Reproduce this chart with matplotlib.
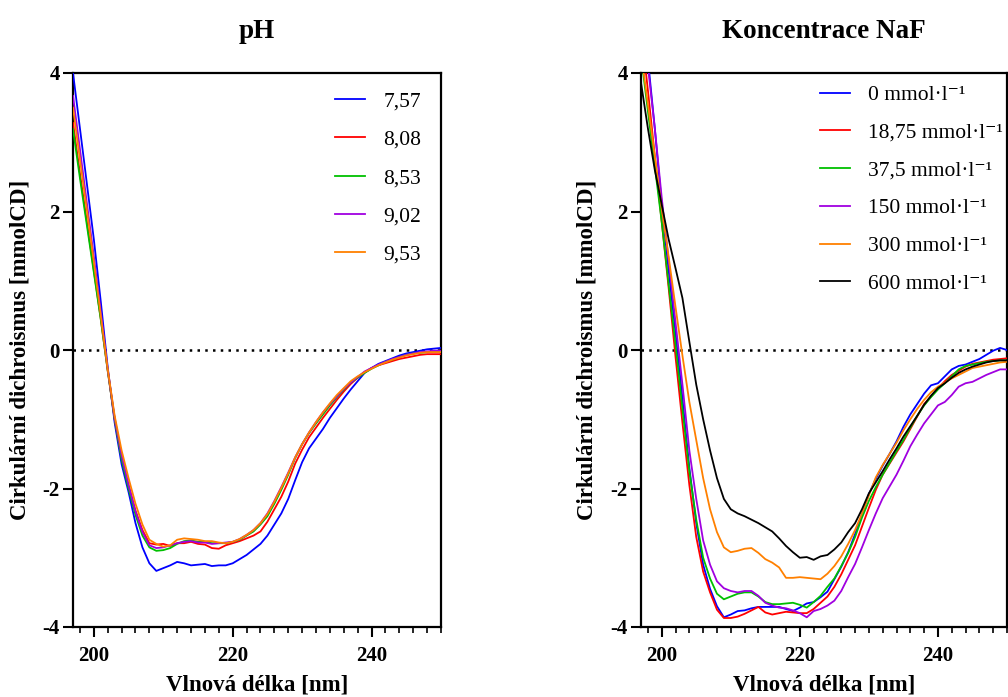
import numpy as np
import matplotlib
matplotlib.use("Agg")
import matplotlib.pyplot as plt
from matplotlib.ticker import MultipleLocator

plt.rcParams['font.family'] = ['Liberation Serif', 'DejaVu Serif']
plt.rcParams['axes.unicode_minus'] = False

# ---------------- data ----------------
wavelength = list(range(197, 251))  # nm

ph_labels = ["7,57", "8,08", "8,53", "9,02", "9,53"]
ph_7_57 = [4.00, 3.20, 2.40, 1.60, 0.70, -0.25, -1.05, -1.65, -2.05, -2.50,
           -2.85, -3.08, -3.19, -3.15, -3.11, -3.06, -3.08, -3.11, -3.10, -3.09,
           -3.12, -3.11, -3.11, -3.08, -3.02, -2.96, -2.88, -2.80, -2.68, -2.52,
           -2.36, -2.15, -1.88, -1.62, -1.42, -1.28, -1.14, -0.98, -0.84, -0.70,
           -0.57, -0.45, -0.33, -0.26, -0.20, -0.16, -0.12, -0.08, -0.05, -0.03,
           -0.01, 0.01, 0.02, 0.03]
ph_8_08 = [3.28, 2.55, 1.85, 1.15, 0.45, -0.30, -1.00, -1.55, -1.95, -2.32,
           -2.60, -2.79, -2.81, -2.80, -2.83, -2.79, -2.79, -2.77, -2.80, -2.81,
           -2.86, -2.87, -2.82, -2.79, -2.76, -2.72, -2.68, -2.62, -2.48, -2.30,
           -2.12, -1.90, -1.64, -1.44, -1.26, -1.12, -0.98, -0.85, -0.72, -0.60,
           -0.49, -0.40, -0.32, -0.26, -0.22, -0.19, -0.16, -0.13, -0.11, -0.09,
           -0.07, -0.06, -0.06, -0.06]
ph_8_53 = [3.19, 2.48, 1.80, 1.12, 0.44, -0.30, -1.00, -1.58, -2.00, -2.38,
           -2.68, -2.85, -2.90, -2.89, -2.86, -2.80, -2.76, -2.75, -2.77, -2.77,
           -2.79, -2.79, -2.79, -2.77, -2.74, -2.68, -2.62, -2.52, -2.40, -2.22,
           -2.02, -1.80, -1.56, -1.36, -1.20, -1.06, -0.93, -0.80, -0.68, -0.57,
           -0.47, -0.40, -0.33, -0.27, -0.22, -0.17, -0.14, -0.10, -0.07, -0.05,
           -0.04, -0.03, -0.02, -0.02]
ph_9_02 = [3.67, 2.90, 2.12, 1.35, 0.55, -0.28, -0.98, -1.52, -1.95, -2.33,
           -2.63, -2.82, -2.86, -2.85, -2.82, -2.79, -2.77, -2.76, -2.78, -2.78,
           -2.80, -2.79, -2.78, -2.77, -2.73, -2.67, -2.60, -2.50, -2.36, -2.18,
           -1.98, -1.77, -1.55, -1.36, -1.19, -1.04, -0.90, -0.78, -0.67, -0.56,
           -0.47, -0.39, -0.31, -0.26, -0.21, -0.17, -0.13, -0.10, -0.07, -0.05,
           -0.03, -0.02, -0.01, -0.01]
ph_9_53 = [3.50, 2.75, 2.02, 1.28, 0.50, -0.28, -0.95, -1.45, -1.85, -2.22,
           -2.52, -2.74, -2.80, -2.84, -2.82, -2.74, -2.72, -2.73, -2.74, -2.76,
           -2.76, -2.78, -2.79, -2.77, -2.73, -2.67, -2.60, -2.50, -2.37, -2.19,
           -1.99, -1.78, -1.55, -1.36, -1.19, -1.04, -0.90, -0.77, -0.65, -0.55,
           -0.45, -0.38, -0.32, -0.27, -0.22, -0.18, -0.14, -0.11, -0.08, -0.06,
           -0.04, -0.03, -0.03, -0.03]

naf_labels = ["0 mmol·l⁻¹", "18,75 mmol·l⁻¹", "37,5 mmol·l⁻¹",
              "150 mmol·l⁻¹", "300 mmol·l⁻¹", "600 mmol·l⁻¹"]
naf_0 = [5.30, 4.20, 3.20, 2.10, 1.15, 0.25, -0.70, -1.70, -2.50, -3.10,
         -3.45, -3.70, -3.86, -3.82, -3.77, -3.76, -3.73, -3.71, -3.71, -3.71,
         -3.71, -3.74, -3.77, -3.72, -3.66, -3.64, -3.57, -3.49, -3.31, -3.13,
         -2.92, -2.66, -2.38, -2.08, -1.86, -1.67, -1.50, -1.32, -1.11, -0.93,
         -0.78, -0.63, -0.51, -0.48, -0.38, -0.28, -0.23, -0.21, -0.17, -0.13,
         -0.07, -0.01, 0.03, 0.00]
naf_18_75 = [4.65, 3.75, 2.80, 1.85, 0.90, -0.10, -1.05, -1.95, -2.70, -3.20,
             -3.50, -3.75, -3.87, -3.87, -3.85, -3.81, -3.76, -3.71, -3.79, -3.82,
             -3.80, -3.78, -3.79, -3.80, -3.80, -3.74, -3.65, -3.56, -3.42, -3.24,
             -3.03, -2.82, -2.55, -2.28, -2.02, -1.80, -1.64, -1.48, -1.32, -1.14,
             -0.96, -0.78, -0.67, -0.56, -0.45, -0.36, -0.30, -0.24, -0.20, -0.18,
             -0.16, -0.14, -0.13, -0.12]
naf_37_5 = [4.25, 3.45, 2.65, 1.85, 0.95, 0.08, -0.85, -1.75, -2.45, -3.00,
            -3.30, -3.52, -3.60, -3.56, -3.52, -3.50, -3.50, -3.56, -3.64, -3.67,
            -3.67, -3.66, -3.65, -3.68, -3.72, -3.64, -3.55, -3.42, -3.30, -3.12,
            -2.93, -2.70, -2.42, -2.18, -1.98, -1.80, -1.63, -1.46, -1.30, -1.12,
            -0.95, -0.80, -0.68, -0.57, -0.48, -0.38, -0.28, -0.23, -0.21, -0.19,
            -0.17, -0.16, -0.15, -0.15]
naf_150 = [5.00, 4.10, 3.20, 2.20, 1.30, 0.40, -0.50, -1.45, -2.15, -2.75,
           -3.10, -3.34, -3.44, -3.48, -3.50, -3.48, -3.48, -3.55, -3.65, -3.69,
           -3.72, -3.73, -3.76, -3.80, -3.86, -3.77, -3.74, -3.69, -3.62, -3.48,
           -3.28, -3.09, -2.85, -2.60, -2.36, -2.14, -1.97, -1.80, -1.60, -1.39,
           -1.22, -1.06, -0.93, -0.80, -0.75, -0.65, -0.53, -0.48, -0.46, -0.41,
           -0.36, -0.32, -0.28, -0.28]
naf_300 = [4.30, 3.55, 2.80, 2.05, 1.35, 0.62, -0.08, -0.75, -1.30, -1.85,
           -2.30, -2.63, -2.85, -2.92, -2.90, -2.87, -2.86, -2.93, -3.02, -3.07,
           -3.14, -3.29, -3.29, -3.28, -3.29, -3.30, -3.31, -3.23, -3.12, -2.98,
           -2.80, -2.60, -2.36, -2.10, -1.84, -1.66, -1.50, -1.34, -1.16, -1.00,
           -0.85, -0.72, -0.61, -0.53, -0.47, -0.41, -0.36, -0.31, -0.26, -0.24,
           -0.22, -0.20, -0.18, -0.17]
naf_600 = [3.86, 3.20, 2.60, 2.10, 1.60, 1.18, 0.75, 0.12, -0.50, -1.00,
           -1.45, -1.85, -2.15, -2.30, -2.36, -2.40, -2.45, -2.50, -2.56, -2.62,
           -2.72, -2.83, -2.92, -3.00, -2.99, -3.03, -2.98, -2.96, -2.88, -2.78,
           -2.63, -2.50, -2.30, -2.07, -1.91, -1.75, -1.58, -1.42, -1.25, -1.10,
           -0.95, -0.79, -0.66, -0.55, -0.48, -0.40, -0.33, -0.28, -0.24, -0.21,
           -0.18, -0.16, -0.15, -0.15]

ph_series = [ph_7_57, ph_8_08, ph_8_53, ph_9_02, ph_9_53]
naf_series = [naf_0, naf_18_75, naf_37_5, naf_150, naf_300, naf_600]
colors = ["#0000FF", "#FF0000", "#00C000", "#A000E0", "#FF8000", "#000000"]

titles = ["pH", "Koncentrace NaF"]
xlabel = "Vlnová délka [nm]"
ylabel = "Cirkulární dichroismus [mmolCD]"

# ---------------- figure ----------------
fig = plt.figure(figsize=(10.08, 6.97), dpi=100)
W, H = 1008, 697
ax1 = fig.add_axes([73 / W, (H - 627) / H, 368 / W, 554 / H])
ax2 = fig.add_axes([641 / W, (H - 627) / H, 366 / W, 554 / H])


def style_axis(ax, title, label_x):
    ax.set_xlim(197, 250)
    ax.set_ylim(-4, 4)
    ax.set_xticks([200, 220, 240])
    ax.set_yticks([-4, -2, 0, 2, 4])
    ax.xaxis.set_minor_locator(MultipleLocator(2))
    ax.tick_params(axis='both', which='major', direction='out', length=7.5,
                   width=1.5, labelsize=15, pad=2)
    ax.tick_params(axis='x', which='major', pad=6)
    ax.tick_params(axis='x', which='minor', direction='out', length=4.5, width=1.2)
    for lbl in ax.get_xticklabels() + ax.get_yticklabels():
        lbl.set_fontweight('bold')
    for sp in ax.spines.values():
        sp.set_linewidth(1.6)
        sp.set_color('black')
    ax.axhline(0, color='black', lw=1.8, ls=(0, (1, 2.1)), zorder=1)
    ax.set_title(title, fontsize=19.5, fontweight='bold', pad=25)
    ax.set_xlabel(xlabel, fontsize=16.5, fontweight='bold')
    ax.set_ylabel(ylabel, fontsize=16.5, fontweight='bold')
    ax.xaxis.set_label_coords(0.5, -0.086)
    ax.yaxis.set_label_coords(label_x, 0.5)


for s, lab, c in zip(ph_series, ph_labels, colors):
    ax1.plot(wavelength, s, color=c, lw=1.3, label=lab, zorder=3)
for s, lab, c in zip(naf_series, naf_labels, colors):
    ax2.plot(wavelength, s, color=c, lw=1.3, label=lab, zorder=3)

style_axis(ax1, titles[0], -0.115)
style_axis(ax2, titles[1], -0.12)

ax1.legend(loc='upper left', bbox_to_anchor=(0.712, 0.967), frameon=False,
           fontsize=15.5, handlelength=1.4, handletextpad=0.85,
           labelspacing=0.85, borderpad=0, borderaxespad=0)
ax2.legend(loc='upper left', bbox_to_anchor=(0.488, 0.978), frameon=False,
           fontsize=15.5, handlelength=1.4, handletextpad=0.85,
           labelspacing=0.82, borderpad=0, borderaxespad=0)

fig.savefig("out.png", dpi=100)
